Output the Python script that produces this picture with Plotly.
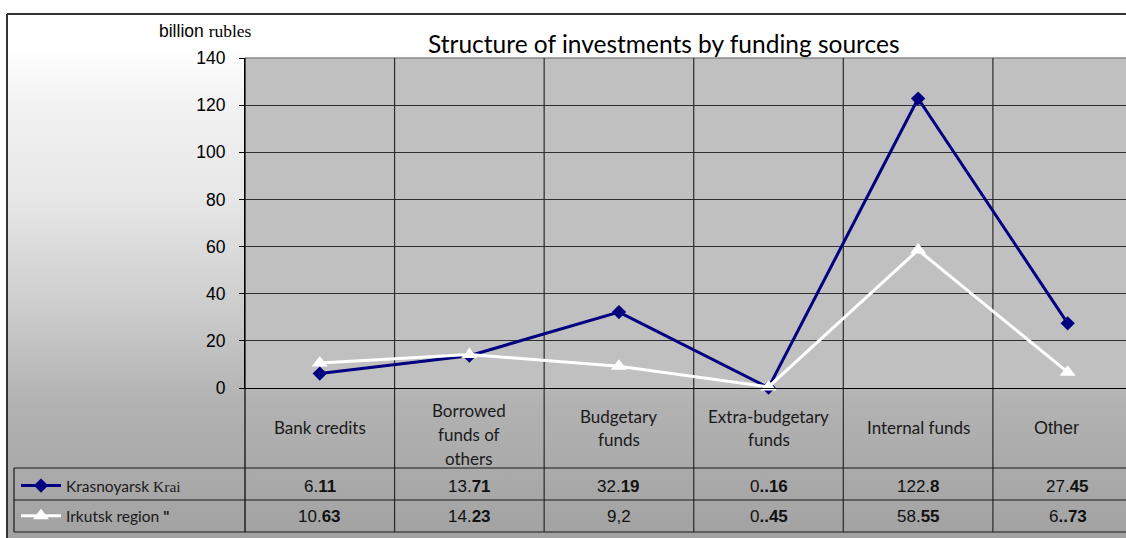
import base64
import plotly.graph_objects as go

# ---------------- data ----------------
categories = ["Bank credits", "Borrowed<br>funds of<br>others", "Budgetary<br>funds",
              "Extra-budgetary<br>funds", "Internal funds", "Other"]
krasnoyarsk = [6.11, 13.71, 32.19, 0.16, 122.8, 27.45]
irkutsk = [10.63, 14.23, 9.2, 0.45, 58.55, 6.73]
krasnoyarsk_labels = ["6.<b>11</b>", "13.<b>71</b>", "32.<b>19</b>", "0<b>..16</b>", "122.<b>8</b>", "27.<b>45</b>"]
irkutsk_labels = ["10.<b>63</b>", "14.<b>23</b>", "9,2", "0<b>..45</b>", "58.<b>55</b>", "6<b>..73</b>"]
series_names = ['Krasnoyarsk <span style="font-family:Liberation Serif">Krai</span>',
                'Irkutsk region <b>"</b>']
y_ticks = [0, 20, 40, 60, 80, 100, 120, 140]

W, H = 1126, 538
L, R, T, B = 245, 1126, 58, 388


def px(xp):
    return (xp - L) / (R - L)


def py(yp):
    return (B - yp) / (B - T)


ARIAL = "Liberation Sans, Arial, sans-serif"
CALIBRI = "Lato, Carlito, sans-serif"

fig = go.Figure()
xs = list(range(len(categories)))
fig.add_trace(go.Scatter(x=xs, y=krasnoyarsk, mode="lines+markers", name=series_names[0],
                         line=dict(color="#000080", width=3),
                         marker=dict(symbol="diamond", size=11, color="#000080"),
                         legendgroup="a", cliponaxis=False))
fig.add_trace(go.Scatter(x=xs, y=irkutsk, mode="lines+markers", name=series_names[1],
                         line=dict(color="#ffffff", width=3),
                         marker=dict(symbol="triangle-up", size=14, color="#ffffff"),
                         legendgroup="b", cliponaxis=False))

# gradient background for the chart area
svg = ("<svg xmlns='http://www.w3.org/2000/svg' width='100' height='100' preserveAspectRatio='none'>"
       "<defs><linearGradient id='g' x1='0' y1='0' x2='0' y2='1'>"
       "<stop offset='0' stop-color='#ffffff'/>"
       "<stop offset='0.065' stop-color='#ffffff'/>"
       "<stop offset='0.165' stop-color='#f3f3f3'/>"
       "<stop offset='0.357' stop-color='#e6e6e6'/>"
       "<stop offset='0.549' stop-color='#cecece'/>"
       "<stop offset='0.741' stop-color='#b2b2b2'/>"
       "<stop offset='1' stop-color='#a2a2a2'/>"
       "</linearGradient></defs><rect width='100' height='100' fill='url(#g)'/></svg>")
src = "data:image/svg+xml;base64," + base64.b64encode(svg.encode()).decode()
fig.add_layout_image(dict(source=src, xref="paper", yref="paper", x=px(7), y=py(14),
                          sizex=px(1130) - px(7), sizey=py(14) - py(540),
                          xanchor="left", yanchor="top", sizing="stretch", layer="below"))

shapes = []
# plot area
shapes.append(dict(type="rect", xref="paper", yref="paper", x0=0, x1=1, y0=0, y1=1,
                   fillcolor="#c0c0c0", line=dict(width=0), layer="below"))
# top border of plot
shapes.append(dict(type="line", xref="paper", yref="paper", x0=0, x1=1, y0=1, y1=1,
                   line=dict(color="#8a8a8a", width=1.5), layer="below"))
# vertical category dividers through plot + table
for i in range(len(categories)):
    shapes.append(dict(type="line", xref="x", yref="paper", x0=i + 0.5, x1=i + 0.5,
                       y0=py(532), y1=1, line=dict(color="#2a2a2a", width=1.2), layer="below"))
# y axis line extended into table
shapes.append(dict(type="line", xref="paper", yref="paper", x0=0, x1=0, y0=py(532), y1=1,
                   line=dict(color="#000000", width=1.2), layer="below"))
# table horizontal lines
for yy in (468, 500, 532):
    shapes.append(dict(type="line", xref="paper", yref="paper", x0=px(14), x1=1.01,
                       y0=py(yy), y1=py(yy), line=dict(color="#1a1a1a", width=1.2), layer="below"))
shapes.append(dict(type="line", xref="paper", yref="paper", x0=px(14), x1=px(14),
                   y0=py(532), y1=py(468), line=dict(color="#1a1a1a", width=1.2), layer="below"))
# outer chart border (top and left visible)
shapes.append(dict(type="line", xref="paper", yref="paper", x0=px(7), x1=px(1130),
                   y0=py(14), y1=py(14), line=dict(color="#333333", width=2), layer="above"))
shapes.append(dict(type="line", xref="paper", yref="paper", x0=px(7), x1=px(7),
                   y0=py(540), y1=py(14), line=dict(color="#333333", width=2), layer="above"))

annotations = []
annotations.append(dict(text="Structure of investments by funding sources", xref="paper", yref="paper",
                        x=px(664), y=py(43), xanchor="center", yanchor="middle", showarrow=False,
                        font=dict(family=CALIBRI, size=24.5, color="#000000")))
annotations.append(dict(text='billion <span style="font-family:Liberation Serif">rubles</span>',
                        xref="paper", yref="paper", x=px(205), y=py(31), xanchor="center",
                        yanchor="middle", showarrow=False,
                        font=dict(family=ARIAL, size=17.5, color="#000000")))
# category labels
for i, c in enumerate(categories):
    lines = c.split("<br>")
    n = len(lines)
    is_other = c == "Other"
    fam = ARIAL if is_other else CALIBRI
    size = 18 if is_other else 17
    center = 434 if n >= 3 else 428
    for k, ln in enumerate(lines):
        yc = center + (k - (n - 1) / 2) * 24
        annotations.append(dict(text=ln, xref="x", yref="paper", x=i, y=py(yc),
                                xanchor="center", yanchor="middle", showarrow=False,
                                xshift=-11 if is_other else 0,
                                font=dict(family=fam, size=size, color="#1a1a1a")))
# table values
for i in range(len(categories)):
    annotations.append(dict(text=krasnoyarsk_labels[i], xref="x", yref="paper", x=i, y=py(486),
                            xanchor="center", yanchor="middle", showarrow=False,
                            font=dict(family=ARIAL, size=17, color="#111111")))
    annotations.append(dict(text=irkutsk_labels[i], xref="x", yref="paper", x=i, y=py(516),
                            xanchor="center", yanchor="middle", showarrow=False,
                            font=dict(family=ARIAL, size=17, color="#111111")))

fig.update_layout(
    width=W, height=H,
    margin=dict(l=L, r=W - R, t=T, b=H - B, pad=0),
    paper_bgcolor="#ffffff", plot_bgcolor="rgba(0,0,0,0)",
    shapes=shapes, annotations=annotations,
    showlegend=True,
    legend=dict(x=px(16), y=py(469), xanchor="left", yanchor="top",
                bgcolor="rgba(0,0,0,0)", traceorder="grouped", tracegroupgap=7,
                font=dict(family=CALIBRI, size=15.5, color="#1a1a1a"), itemwidth=40),
    xaxis=dict(range=[-0.5, 5.39], showticklabels=False, showgrid=False, zeroline=False,
               showline=True, linecolor="#000000", linewidth=1.2, ticks="", fixedrange=True),
    yaxis=dict(range=[0, 140], tickvals=y_ticks, showgrid=True, gridcolor="#2e2e2e", gridwidth=1,
               zeroline=False, showline=True, linecolor="#000000", linewidth=1.2,
               ticks="outside", ticklen=5, tickcolor="#000000", ticklabelstandoff=10,
               tickfont=dict(family=ARIAL, size=17.5, color="#000000"), fixedrange=True),
)

fig.write_html("out.html")
